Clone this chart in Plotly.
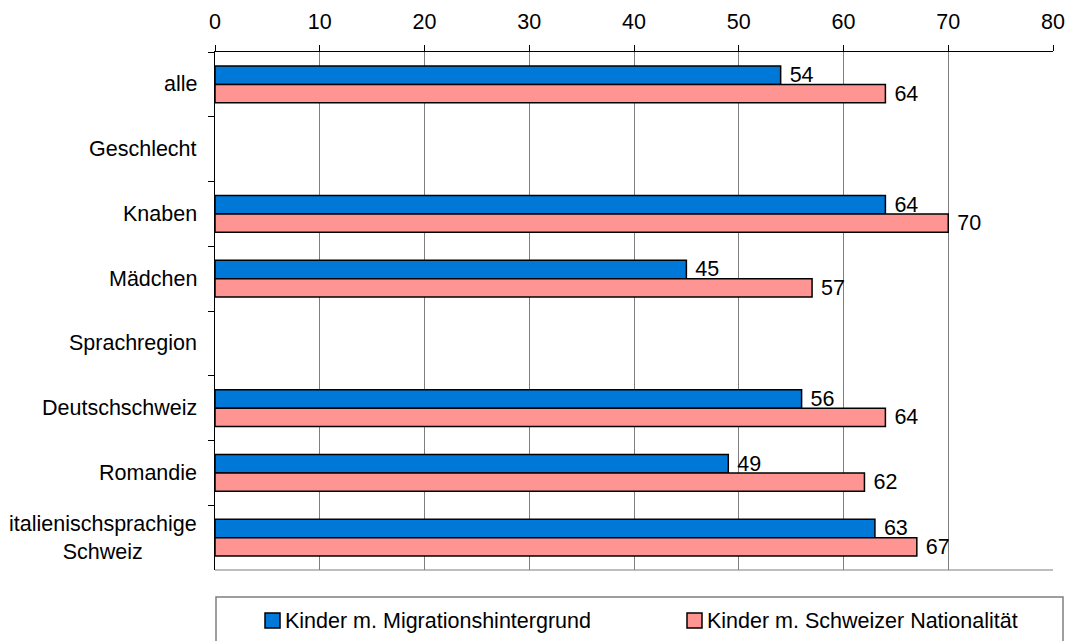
import plotly.graph_objects as go

# Categories (top to bottom) and values per series
categories = ["alle", "Geschlecht", "Knaben", "Mädchen", "Sprachregion",
              "Deutschschweiz", "Romandie", "italienischsprachige<br>Schweiz"]
migration = [54, None, 64, 45, None, 56, 49, 63]
swiss = [64, None, 70, 57, None, 64, 62, 67]
series_names = ["Kinder m. Migrationshintergrund", "Kinder m. Schweizer Nationalität"]
series_colors = ["#0078D7", "#FF9592"]

x_ticks = [0, 10, 20, 30, 40, 50, 60, 70, 80]

W, H = 1070, 641
ML, MR, MT, MB = 215, 17, 52, 71
PW, PH = W - ML - MR, H - MT - MB
FONT = "Liberation Sans, Arial, sans-serif"
FS = 21.5


def px_x(px):
    return (px - ML) / PW


def px_y(py):
    return (H - MB - py) / PH


def labels(vals):
    return [" " + str(v) if v is not None else "" for v in vals]


fig = go.Figure()
for name, vals, col in zip(series_names, [migration, swiss], series_colors):
    fig.add_trace(go.Bar(
        y=categories, x=vals, name=name, orientation="h",
        marker=dict(color=col, line=dict(color="black", width=1.5)),
        text=labels(vals), textposition="outside", cliponaxis=False,
        constraintext="none",
        textfont=dict(family=FONT, size=FS, color="black"),
        showlegend=False,
    ))

fig.update_layout(
    width=W, height=H,
    margin=dict(l=ML, r=MR, t=MT, b=MB, autoexpand=False),
    paper_bgcolor="white", plot_bgcolor="white",
    barmode="group", bargap=0.43, bargroupgap=0,
    font=dict(family=FONT, size=FS, color="black"),
    uniformtext=dict(minsize=FS - 1, mode="show"),
    xaxis=dict(
        side="top", range=[0, 80], tickvals=x_ticks, automargin=False,
        showgrid=True, gridcolor="#7f7f7f", gridwidth=1,
        zeroline=False, showline=True, linecolor="black", linewidth=1,
        ticks="outside", ticklen=6, tickcolor="black",
        ticklabelstandoff=7,
        tickfont=dict(family=FONT, size=FS, color="black"),
    ),
    yaxis=dict(
        type="category", categoryorder="array", categoryarray=categories,
        autorange="reversed", showgrid=False, zeroline=False, automargin=False,
        showline=True, linecolor="black", linewidth=1,
        ticks="outside", ticklen=6, tickcolor="black", tickson="boundaries",
        showticklabels=False,
    ),
)

# Category labels, right-aligned next to the axis (multi-line centred)
for cat in categories:
    fig.add_annotation(
        x=0, xref="paper", y=cat, yref="y", text=cat, showarrow=False,
        xanchor="right", xshift=-16, align="center",
        font=dict(family=FONT, size=FS, color="black"),
    )

# Bottom frame line of the plot area
fig.add_shape(type="line", xref="paper", yref="paper", x0=0, x1=1, y0=0, y1=0,
              line=dict(color="#7f7f7f", width=1))

# Legend box with square swatches
fig.add_shape(type="rect", xref="paper", yref="paper",
              x0=px_x(216), x1=px_x(1063), y0=px_y(650), y1=px_y(597),
              line=dict(color="#7f7f7f", width=1.5), fillcolor="white")
for name, col, sx in zip(series_names, series_colors, [265, 687]):
    fig.add_shape(type="rect", xref="paper", yref="paper",
                  x0=px_x(sx), x1=px_x(sx + 15), y0=px_y(628), y1=px_y(613),
                  line=dict(color="black", width=1.5), fillcolor=col)
    fig.add_annotation(x=px_x(sx + 18), xref="paper", y=px_y(620.5), yref="paper",
                       text=name, showarrow=False, xanchor="left", yanchor="middle",
                       font=dict(family=FONT, size=FS, color="black"))

fig.write_html("out.html")
